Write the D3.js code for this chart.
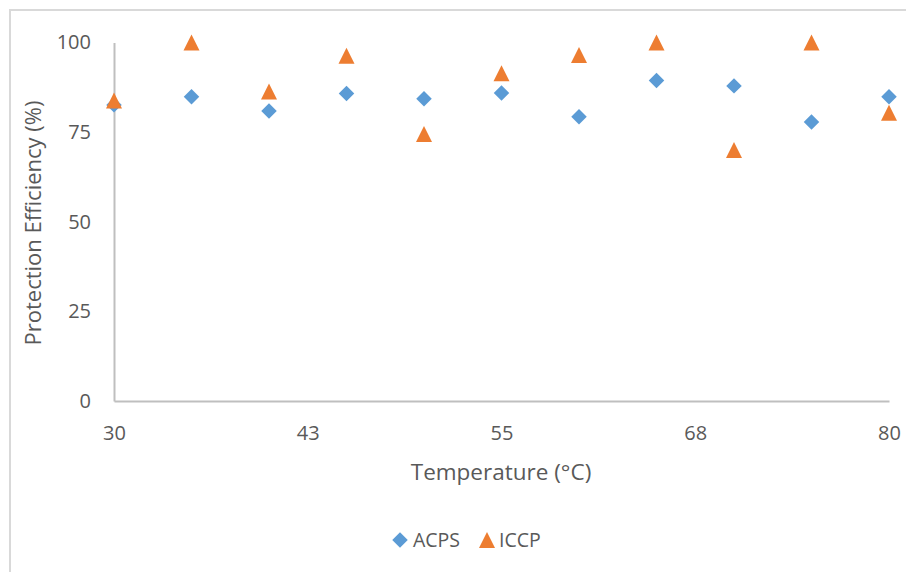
<!DOCTYPE html>
<html>
<head>
<meta charset="utf-8">
<script src="https://cdn.jsdelivr.net/npm/d3@7"></script>
<style>
  body { margin: 0; background: #fff; }
  text { font-family: "Open Sans", sans-serif; fill: #595959; }
</style>
</head>
<body>
<div id="chart"></div>
<script>
// Data
const temperatures = [30, 35, 40, 45, 50, 55, 60, 65, 70, 75, 80];
const acps = [82.6, 84.9, 80.9, 85.8, 84.3, 85.9, 79.3, 89.4, 87.9, 77.8, 84.9];
const iccp = [83.8, 100, 86.3, 96.3, 74.5, 91.4, 96.5, 100, 70.0, 100, 80.4];
const xTicks = [30, 42.5, 55, 67.5, 80];
const xTickLabels = ["30", "43", "55", "68", "80"];
const yTicks = [0, 25, 50, 75, 100];

const width = 906, height = 572;
const margin = {left: 114, right: 17, top: 42.5, bottom: 171};
const innerWidth = width - margin.left - margin.right;
const innerHeight = height - margin.top - margin.bottom;

const svg = d3.select("#chart")
    .append("svg")
    .attr("width", width)
    .attr("height", height);

// chart frame (cropped on the right and bottom in the reference)
svg.append("rect")
    .attr("x", 10).attr("y", 10)
    .attr("width", 1000).attr("height", 1000)
    .attr("fill", "none")
    .attr("stroke", "#d9d9d9")
    .attr("stroke-width", 2);

const inner = svg.append("g")
    .attr("transform", `translate(${margin.left},${margin.top})`);

const x = d3.scaleLinear().domain([30, 80]).range([0, innerWidth]);
const y = d3.scaleLinear().domain([0, 100]).range([innerHeight, 0]);

// axes
const bottomAxis = d3.axisBottom(x)
    .tickValues(xTicks)
    .tickFormat((d, i) => xTickLabels[i])
    .tickSize(0).tickPadding(25);
const gx = inner.append("g")
    .attr("transform", `translate(0,${innerHeight})`)
    .call(bottomAxis);
gx.select(".domain").attr("stroke", "#bfbfbf").attr("stroke-width", 2);
gx.selectAll("text").style("font-size", "20px").attr("fill", "#595959");

const leftAxis = d3.axisLeft(y).tickValues(yTicks).tickSize(0).tickPadding(23);
const gy = inner.append("g").call(leftAxis);
gy.select(".domain").attr("stroke", "#bfbfbf").attr("stroke-width", 2);
gy.selectAll("text").style("font-size", "20px").attr("fill", "#595959");

// axis labels
svg.append("text")
    .text("Temperature (°C)")
    .attr("x", 501)
    .attr("y", 480)
    .attr("text-anchor", "middle")
    .style("font-size", "22.5px");

svg.append("text")
    .text("Protection Efficiency (%)")
    .attr("transform", `translate(41,223) rotate(-90)`)
    .attr("text-anchor", "middle")
    .style("font-size", "22px");

// markers
const diamond = d3.symbol().type(d3.symbolSquare).size(120)();
const triangle = "M0,-8L8,8L-8,8Z";

inner.selectAll(".acps")
    .data(temperatures)
    .join("path")
    .attr("class", "acps")
    .attr("d", diamond)
    .attr("transform", (d, i) => `translate(${x(d)},${y(acps[i])}) rotate(45)`)
    .attr("fill", "#5b9bd5");

inner.selectAll(".iccp")
    .data(temperatures)
    .join("path")
    .attr("class", "iccp")
    .attr("d", triangle)
    .attr("transform", (d, i) => `translate(${x(d)},${y(iccp[i])})`)
    .attr("fill", "#ed7d31");

// legend
const legend = svg.append("g").attr("transform", "translate(400,540)");
legend.append("path").attr("d", diamond).attr("transform", "rotate(45)").attr("fill", "#5b9bd5");
legend.append("text").text("ACPS").attr("x", 13).attr("y", 7).style("font-size", "19.5px");
legend.append("path").attr("d", triangle).attr("transform", "translate(87,0)").attr("fill", "#ed7d31");
legend.append("text").text("ICCP").attr("x", 99).attr("y", 7).style("font-size", "19.5px");
</script>
</body>
</html>
